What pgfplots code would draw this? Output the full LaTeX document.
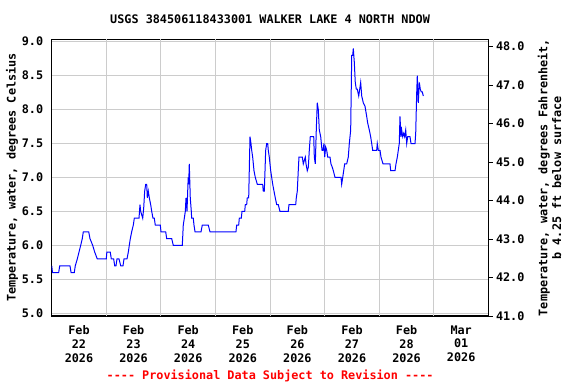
\documentclass[border=0pt]{standalone}
\usepackage{fontspec}
\setmainfont{DejaVu Sans Mono}[Ligatures=TeXOff]
\usepackage{pgfplots}
\pgfplotsset{compat=1.18}
\newcommand{\uf}{\fontsize{11.8bp}{13.8bp}\selectfont\bfseries}
\begin{document}
\begin{tikzpicture}
\useasboundingbox (-51.7bp,-68bp) rectangle (524.3bp,316bp);
\begin{axis}[
  at={(0,0)}, anchor=south west, scale only axis,
  width=436.8bp, height=276.7bp,
  xmin=0, xmax=8, ymin=4.96, ymax=9.035,
  axis line style={line width=1.2bp},
  /pgf/number format/assume math mode=true,
  tick label style={font=\uf},
  ytick={5.0,5.5,6.0,6.5,7.0,7.5,8.0,8.5,9.0},
  yticklabel style={/pgf/number format/.cd, fixed, fixed zerofill, precision=1, /tikz/.cd, xshift=-5bp},
  ytick style={draw=none},
  ymajorgrids,
  grid style={gray!40, line width=1bp},
  xtick={0.5,1.5,2.5,3.5,4.5,5.5,6.5,7.5},
  xticklabels={{Feb\\22\\2026},{Feb\\23\\2026},{Feb\\24\\2026},{Feb\\25\\2026},{Feb\\26\\2026},{Feb\\27\\2026},{Feb\\28\\2026},{Mar\\01\\2026}},
  xticklabel style={align=center, font=\uf, yshift=-6bp},
  xtick style={draw=none},
  extra x ticks={1,2,3,4,5,6,7},
  extra x tick labels={},
  extra x tick style={grid=major, major tick length=0pt},
  ylabel={Temperature, water, degrees Celsius},
  ylabel style={font=\uf, at={(axis description cs:-0.0909,0.5)}, anchor=center},
  title={USGS 384506118433001 WALKER LAKE 4 NORTH NDOW},
  title style={font=\uf, at={(axis description cs:0.5,1.0517)}, anchor=center},
  xlabel={---- Provisional Data Subject to Revision ----},
  xlabel style={font=\uf, text=red, at={(axis description cs:0.5,-0.2150)}, anchor=center},
]
\addplot[blue, line width=1bp] coordinates {
(0.000,5.7)(0.015,5.6)(0.128,5.6)(0.147,5.7)(0.335,5.7)(0.355,5.6)(0.414,5.6)
(0.432,5.7)(0.469,5.8)(0.500,5.9)(0.531,6.0)(0.560,6.1)(0.579,6.2)(0.678,6.2)
(0.701,6.1)(0.751,6.0)(0.788,5.9)(0.835,5.8)(1.000,5.8)(1.010,5.9)(1.073,5.9)
(1.092,5.8)(1.135,5.8)(1.154,5.7)(1.178,5.7)(1.196,5.8)(1.233,5.8)(1.264,5.7)
(1.306,5.7)(1.324,5.8)(1.379,5.8)(1.403,5.9)(1.421,6.0)(1.440,6.1)(1.465,6.2)
(1.495,6.3)(1.513,6.4)(1.599,6.4)(1.617,6.6)(1.630,6.5)(1.667,6.4)(1.685,6.55)
(1.703,6.8)(1.722,6.9)(1.740,6.9)(1.751,6.7)(1.769,6.8)(1.788,6.7)(1.813,6.6)
(1.832,6.5)(1.855,6.4)(1.879,6.4)(1.897,6.3)(1.989,6.3)(2.002,6.2)(2.088,6.2)
(2.106,6.1)(2.198,6.1)(2.227,6.0)(2.392,6.0)(2.410,6.3)(2.429,6.4)(2.447,6.5)
(2.460,6.7)(2.478,6.5)(2.491,6.8)(2.500,7.0)(2.509,6.9)(2.520,7.2)(2.538,6.7)
(2.557,6.5)(2.564,6.4)(2.593,6.4)(2.606,6.3)(2.625,6.2)(2.735,6.2)(2.758,6.3)
(2.868,6.3)(2.899,6.2)(3.375,6.2)(3.388,6.3)(3.425,6.3)(3.436,6.4)(3.473,6.4)
(3.485,6.5)(3.535,6.5)(3.546,6.6)(3.571,6.6)(3.582,6.7)(3.608,6.7)(3.632,7.6)
(3.650,7.5)(3.663,7.4)(3.681,7.3)(3.705,7.1)(3.729,7.0)(3.766,6.9)(3.864,6.9)
(3.875,6.8)(3.894,6.8)(3.907,7.1)(3.919,7.4)(3.938,7.5)(3.956,7.5)(3.967,7.4)
(3.985,7.3)(4.011,7.1)(4.029,7.0)(4.048,6.9)(4.071,6.8)(4.095,6.7)(4.121,6.6)
(4.150,6.6)(4.181,6.5)(4.333,6.5)(4.346,6.6)(4.469,6.6)(4.480,6.7)(4.498,6.8)
(4.516,7.1)(4.529,7.3)(4.590,7.3)(4.608,7.2)(4.626,7.25)(4.645,7.3)(4.658,7.2)
(4.681,7.1)(4.700,7.15)(4.718,7.4)(4.736,7.6)(4.799,7.6)(4.810,7.3)(4.828,7.2)
(4.846,7.7)(4.864,8.1)(4.883,8.0)(4.901,7.7)(4.927,7.6)(4.951,7.4)(4.969,7.4)
(4.987,7.5)(5.000,7.3)(5.018,7.45)(5.037,7.4)(5.055,7.3)(5.097,7.3)(5.115,7.2)
(5.139,7.15)(5.158,7.1)(5.189,7.0)(5.299,7.0)(5.311,6.9)(5.330,7.0)(5.348,7.1)
(5.366,7.2)(5.403,7.2)(5.432,7.3)(5.451,7.5)(5.476,7.7)(5.495,8.8)(5.513,8.8)
(5.524,8.9)(5.542,8.7)(5.560,8.4)(5.579,8.3)(5.597,8.3)(5.623,8.2)(5.641,8.3)
(5.659,8.4)(5.678,8.2)(5.707,8.1)(5.738,8.05)(5.769,7.9)(5.788,7.8)(5.817,7.7)
(5.842,7.6)(5.861,7.5)(5.879,7.4)(5.952,7.4)(5.963,7.5)(5.982,7.4)(6.013,7.4)
(6.031,7.3)(6.068,7.2)(6.196,7.2)(6.209,7.1)(6.288,7.1)(6.306,7.2)(6.330,7.3)
(6.348,7.4)(6.366,7.5)(6.379,7.9)(6.397,7.6)(6.410,7.7)(6.429,7.6)(6.447,7.65)
(6.465,7.6)(6.484,7.7)(6.502,7.5)(6.520,7.6)(6.562,7.6)(6.581,7.5)(6.654,7.5)
(6.667,7.65)(6.685,8.24)(6.696,8.5)(6.714,8.1)(6.733,8.4)(6.751,8.3)(6.769,8.26)
(6.788,8.26)(6.806,8.2)
};
\end{axis}
\begin{axis}[
  at={(0,0)}, anchor=south west, scale only axis,
  width=436.8bp, height=276.7bp,
  xmin=0, xmax=8, ymin=41.0, ymax=48.19,
  axis y line*=right, axis x line=none,
  axis line style={line width=1.2bp},
  /pgf/number format/assume math mode=true,
  tick label style={font=\uf},
  ytick={41,42,43,44,45,46,47,48},
  yticklabel style={/pgf/number format/.cd, fixed, fixed zerofill, precision=1},
  tick style={black, line width=1bp},
  major tick length=4bp, tick align=outside,
  ylabel={Temperature, water, degrees Fahrenheit,\\b 4.25 ft below surface},
  ylabel style={font=\uf, align=center, at={(axis description cs:1.1396,0.5)}, anchor=center},
]
\end{axis}
\end{tikzpicture}
\end{document}
